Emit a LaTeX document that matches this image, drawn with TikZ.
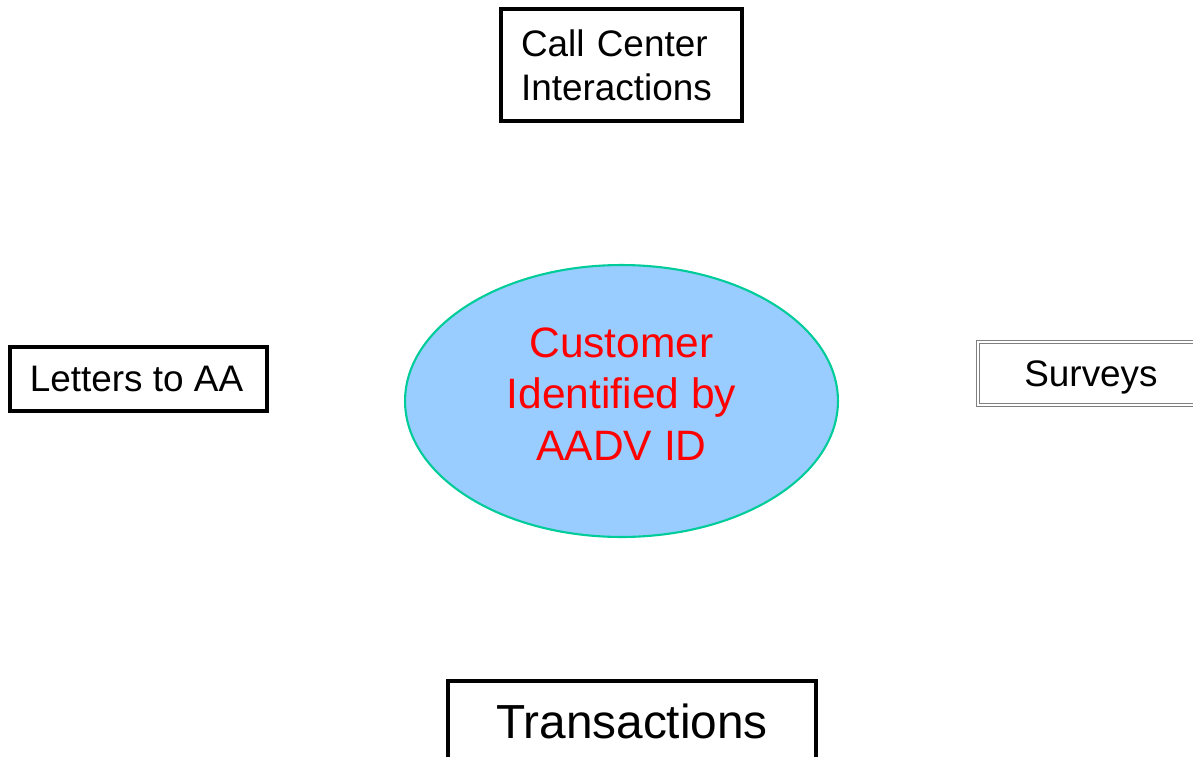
\documentclass[tikz,border=0pt]{standalone}
\usepackage{fontspec}
\setmainfont{Liberation Sans}
\usetikzlibrary{shapes.geometric}
\definecolor{skyfill}{RGB}{153,204,255}
\definecolor{tealline}{RGB}{0,204,153}

\begin{document}
\begin{tikzpicture}[x=0.02cm,y=-0.02cm,
    srcbox/.style={draw, line width=1.8pt, inner sep=0pt, font=\fontsize{21}{25}\selectfont},
    hub/.style={ellipse, draw=tealline, line width=1.2pt, fill=skyfill, inner sep=0pt,
        text=red, align=center, font=\fontsize{24.2}{29.5}\selectfont}]
            \useasboundingbox (0,0) rectangle (1193,757);
            % centre of the picture
            \node[hub, minimum width=8.66cm, minimum height=5.44cm] (cust) at (621.5,401) {};
            \node[text=red, align=center, font=\fontsize{24.2}{29.5}\selectfont] (custtxt) at (621.5,394)
                {Customer\\Identified by\\AADV ID};
            % sources round it
            \node[srcbox, minimum width=4.82cm, minimum height=2.24cm, align=left, text width=4.02cm]
                (call) at (621.5,65) {Call Center\\Interactions};
            \node[srcbox, minimum width=5.14cm, minimum height=1.28cm] (letters) at (138.5,379) {};
            \node[font=\fontsize{21}{25}\selectfont] (lettxt) at (136.5,379) {Letters to AA};
            \node[srcbox, draw=gray, line width=0.6pt, double=white, double distance=1.2pt,
                minimum width=4.6cm, minimum height=1.26cm] (surv) at (1093,373.5) {};
            \node[font=\fontsize{21}{25}\selectfont] (survtxt) at (1091,377) {Surveys};
            \node[srcbox, minimum width=7.36cm, minimum height=1.6cm, font=\fontsize{27.2}{32}\selectfont]
                (trans) at (632,721) {Transactions};
        \end{tikzpicture}
\end{document}
